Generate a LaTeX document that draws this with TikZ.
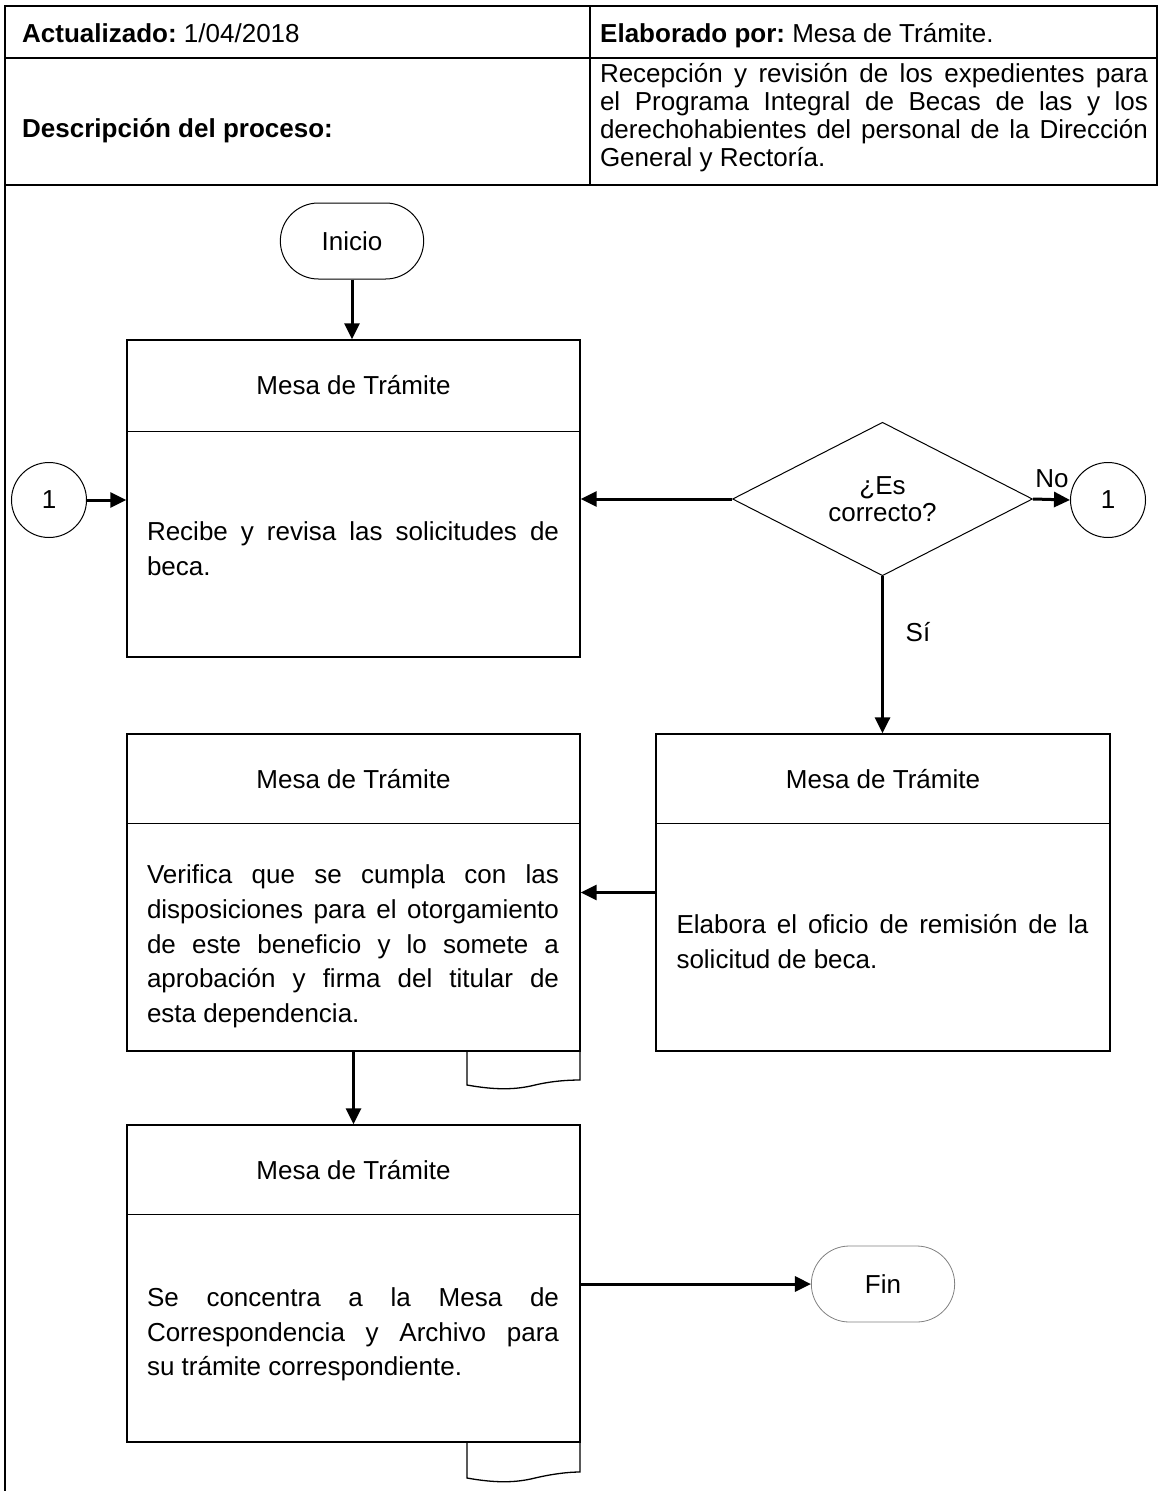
\documentclass[tikz,border=0pt]{standalone}
\usepackage{fontspec}
\setmainfont{Liberation Sans}
\usetikzlibrary{arrows.meta,shapes.geometric,shapes.misc}
\begin{document}
\begin{tikzpicture}[x=1pt,y=-1pt,
  tbl/.style={line width=1.6pt},
  txt/.style={font=\fontsize{26pt}{34.7pt}\selectfont},
  htxt/.style={font=\fontsize{26pt}{28pt}\selectfont},
  proc/.style={draw, line width=1.3pt, minimum width=453pt, minimum height=317pt, inner sep=0pt},
  body/.style={txt, text width=412pt, align=justify, inner sep=0pt},
  flow/.style={line width=3pt, -{Triangle[length=16pt,width=15pt]}},
  term/.style={draw, rounded rectangle, minimum width=150pt, minimum height=76pt, line width=1pt, txt},
  conn/.style={draw, circle, minimum size=75pt, inner sep=0pt, line width=1pt, txt},
  dec/.style={draw, diamond, minimum width=300pt, minimum height=151pt, inner sep=0pt, line width=1pt, align=center, font=\fontsize{26pt}{27pt}\selectfont},
  tab/.style={line width=1.3pt}
]
\useasboundingbox (0,0) rectangle (1159,1491);
\tolerance=10000 \hyphenpenalty=10000
% header table
\draw[tbl] (5,1491) -- (5,6) -- (1157,6) -- (1157,185) -- (5,185);
\draw[tbl] (5,58) -- (1157,58);
\draw[tbl] (590,6) -- (590,185);
\node[htxt, anchor=base west, inner sep=0pt] (act) at (22,42) {\textbf{Actualizado:}~1/04/2018};
\node[htxt, anchor=base west, inner sep=0pt] (ela) at (600,42) {\textbf{Elaborado por:}~Mesa de Trámite.};
\node[htxt, anchor=base west, inner sep=0pt] (des) at (22,137) {\textbf{Descripción del proceso:}};
\node[htxt, text width=548pt, align=justify, inner sep=0pt] (desc) at (874,118)
  {Recepción y revisión de los expedientes para\linebreak el Programa Integral de Becas de las y los\linebreak derechohabientes del personal de la Dirección\linebreak General y Rectoría.};

% flowchart nodes
\node[term] (ini) at (352,241) {Inicio};
\node[proc] (b1) at (353.5,498.5) {};
\node[proc] (lm) at (353.5,892.5) {};
\node[proc, minimum width=454pt] (rt) at (883,892.5) {};
\node[proc] (bb) at (353.5,1283.5) {};
\node[conn] (c1) at (49,500) {1};
\node[conn] (c2) at (1108,500) {1};
\node[dec] (dec) at (882.5,499) {¿Es\\correcto?};
\node[term, draw=gray, line width=0.8pt] (fin) at (883,1284) {Fin};

% dividers
\draw[line width=1.3pt] ([yshift=-92pt]b1.north west) -- ([yshift=-92pt]b1.north east);
\draw[line width=1.3pt] ([yshift=-90pt]lm.north west) -- ([yshift=-90pt]lm.north east);
\draw[line width=1.3pt] ([yshift=-90pt]rt.north west) -- ([yshift=-90pt]rt.north east);
\draw[line width=1.3pt] ([yshift=-90pt]bb.north west) -- ([yshift=-90pt]bb.north east);

% box texts
\node[txt] (b1h) at (353.5,385) {Mesa de Trámite};
\node[body] (b1t) at (353,548.5) {Recibe y revisa las solicitudes de\linebreak beca.};
\node[txt] (lmh) at (353.5,779) {Mesa de Trámite};
\node[body] (lmt) at (353,946.5) {Verifica que se cumpla con las\linebreak disposiciones para el otorgamiento\linebreak de este beneficio y lo somete a\linebreak aprobación y firma del titular de\linebreak esta dependencia.};
\node[txt] (rth) at (883,779) {Mesa de Trámite};
\node[body] (rtt) at (882.5,941.5) {Elabora el oficio de remisión de la\linebreak solicitud de beca.};
\node[txt] (bbh) at (353.5,1170) {Mesa de Trámite};
\node[body] (bbt) at (353,1334.5) {Se concentra a la Mesa de\linebreak Correspondencia y Archivo para\linebreak su trámite correspondiente.};

% document tabs
\draw[tab] (467,1050) -- (467,1085) .. controls (495,1090) and (515,1090) .. (535,1085) .. controls (552,1081) and (568,1080) .. (580,1080) -- (580,1050);
\draw[tab] (467,1442) -- (467,1478) .. controls (495,1483) and (515,1483) .. (535,1478) .. controls (552,1474) and (568,1472) .. (580,1472) -- (580,1442);

% labels
\node[txt] (no) at (1052,479) {No};
\node[txt] (si) at (918,632) {Sí};

% connectors
\draw[flow] (ini.south) -- (ini.south |- b1.north);
\draw[flow] (c1.east) -- (c1 -| b1.west);
\draw[flow] (dec.west) -- (dec -| b1.east);
\draw[flow] (dec.east) -- (c2.west);
\draw[flow] (dec.south) -- (dec.south |- rt.north);
\draw[flow] (rt.west) -- (lm.east);
\draw[flow] (lm.south) -- (bb.north);
\draw[flow] (bb.east |- fin) -- (fin.west);
\end{tikzpicture}
\end{document}
